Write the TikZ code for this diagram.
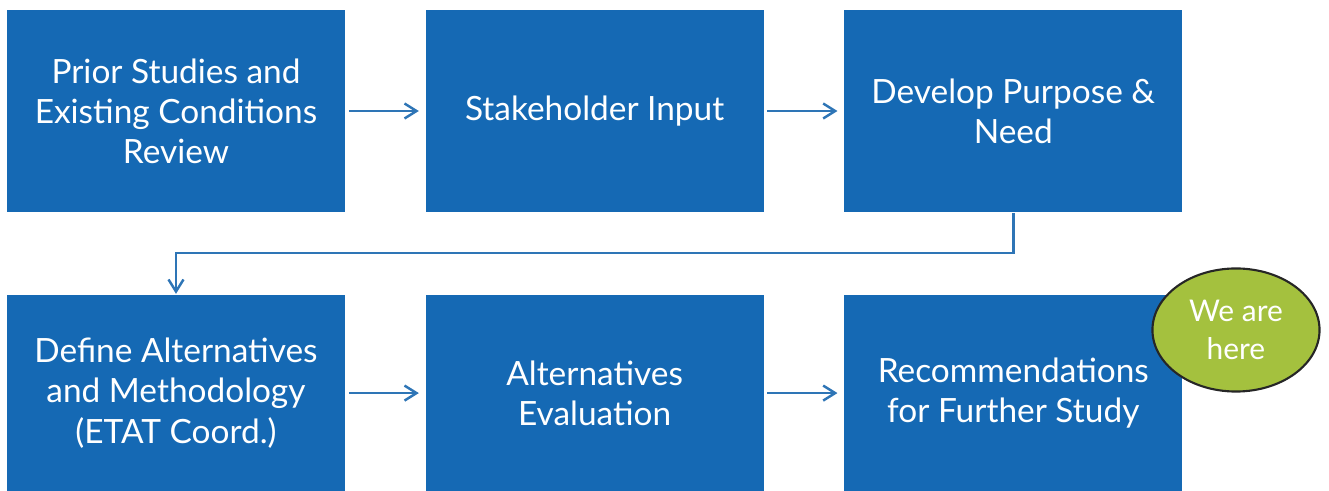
\documentclass[tikz,border=0pt]{standalone}
\usepackage{fontspec}
\setmainfont{Lato}
\usetikzlibrary{positioning,shapes.geometric,arrows.meta}
\definecolor{boxblue}{RGB}{21,105,180}
\definecolor{lineblue}{RGB}{46,117,182}
\definecolor{heregreen}{RGB}{164,193,62}

\begin{document}
\begin{tikzpicture}[x=0.01cm,y=-0.01cm,
  stepbox/.style={fill=boxblue, text=white, minimum width=3.38cm, minimum height=2.02cm,
    inner sep=0pt, align=center, font=\fontsize{9.5}{11.4}\selectfont},
  flow/.style={draw=lineblue, line width=0.7pt, -{Straight Barb[length=1.2mm,width=1.5mm]}}]
% Slide frame (pixel units, y going down)
\useasboundingbox (0,0) rectangle (1329,491);

% Gap between the boxes
\def\gap{0.79cm}

% Top row
\node[stepbox] (prior) at (176,111) {Prior Studies and\\Existing Conditions\\Review};
\node[stepbox, right=\gap of prior] (stake) {Stakeholder Input};
\node[stepbox, right=\gap of stake] (purpose) {Develop Purpose \&\\Need};

% Bottom row
\node[stepbox, minimum height=1.97cm, below=0.81cm of prior] (define) {Define Alternatives\\and Methodology\\(ETAT Coord.)};
\node[stepbox, minimum height=1.97cm, right=\gap of define] (evaluate) {Alternatives\\Evaluation};
\node[stepbox, minimum height=1.97cm, right=\gap of evaluate] (recommend) {Recommendations\\for Further Study};

% Marker
\node[ellipse, draw=black!85, line width=0.6pt, fill=heregreen, text=white, minimum width=1.67cm,
  minimum height=1.23cm, inner sep=0pt, align=center, font=\fontsize{8.5}{11}\selectfont]
  (here) at (1236,330) {We are\\here};

% Arrows
\draw[flow, shorten <=0.03cm, shorten >=0.06cm] (prior) -- (stake);
\draw[flow, shorten <=0.03cm, shorten >=0.06cm] (stake) -- (purpose);
\draw[flow] (purpose.south) -- ++(0,40) -| (define.north);
\draw[flow, shorten <=0.03cm, shorten >=0.06cm] (define) -- (evaluate);
\draw[flow, shorten <=0.03cm, shorten >=0.06cm] (evaluate) -- (recommend);
\end{tikzpicture}
\end{document}
